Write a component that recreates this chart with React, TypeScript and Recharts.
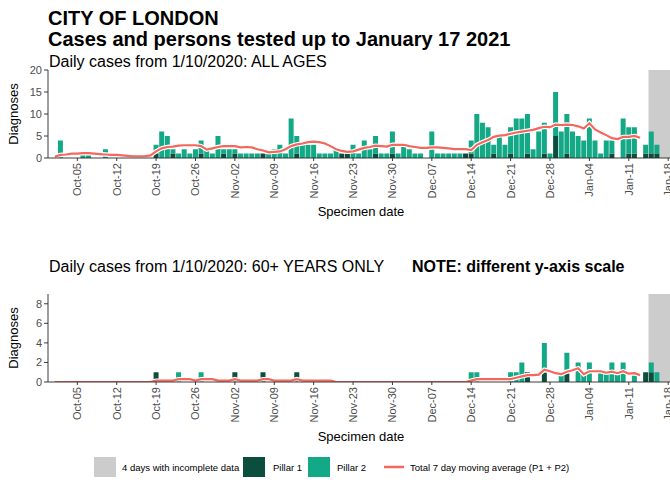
import React from 'react';
import { ComposedChart, Bar, Line, XAxis, YAxis, ReferenceArea } from 'recharts';

const DATES = [
  'Oct-01','Oct-02','Oct-03','Oct-04','Oct-05','Oct-06','Oct-07','Oct-08','Oct-09','Oct-10',
  'Oct-11','Oct-12','Oct-13','Oct-14','Oct-15','Oct-16','Oct-17','Oct-18','Oct-19','Oct-20',
  'Oct-21','Oct-22','Oct-23','Oct-24','Oct-25','Oct-26','Oct-27','Oct-28','Oct-29','Oct-30',
  'Oct-31','Nov-01','Nov-02','Nov-03','Nov-04','Nov-05','Nov-06','Nov-07','Nov-08','Nov-09',
  'Nov-10','Nov-11','Nov-12','Nov-13','Nov-14','Nov-15','Nov-16','Nov-17','Nov-18','Nov-19',
  'Nov-20','Nov-21','Nov-22','Nov-23','Nov-24','Nov-25','Nov-26','Nov-27','Nov-28','Nov-29',
  'Nov-30','Dec-01','Dec-02','Dec-03','Dec-04','Dec-05','Dec-06','Dec-07','Dec-08','Dec-09',
  'Dec-10','Dec-11','Dec-12','Dec-13','Dec-14','Dec-15','Dec-16','Dec-17','Dec-18','Dec-19',
  'Dec-20','Dec-21','Dec-22','Dec-23','Dec-24','Dec-25','Dec-26','Dec-27','Dec-28','Dec-29',
  'Dec-30','Dec-31','Jan-01','Jan-02','Jan-03','Jan-04','Jan-05','Jan-06','Jan-07','Jan-08',
  'Jan-09','Jan-10','Jan-11','Jan-12','Jan-13','Jan-14','Jan-15','Jan-16','Jan-17','Jan-18',
];

const TICK_LABELS = [
  'Oct-05','Oct-12','Oct-19','Oct-26','Nov-02','Nov-09','Nov-16','Nov-23',
  'Nov-30','Dec-07','Dec-14','Dec-21','Dec-28','Jan-04','Jan-11','Jan-18',
];

const INCOMPLETE_START = 'Jan-15';
const INCOMPLETE_END = 'Jan-18';

// ALL AGES
const ALL_P1 = [
  0,0,0,0,0,0,0,0,0,0,
  0,0,0,0,0,0,0,0,1,0,
  0,1,0,0,0,0,1,0,0,0,
  1,0,1,0,0,0,0,1,0,0,
  0,0,0,1,0,0,0,0,0,0,
  0,1,1,0,0,0,0,1,0,0,
  1,0,0,0,0,0,0,0,0,0,
  0,0,0,1,1,0,0,0,1,0,
  0,1,0,0,1,0,0,1,0,5,
  0,1,0,0,0,0,0,0,0,1,
  0,0,1,1,0,1,1,1,0,0,
];
const ALL_P2 = [
  0,4,0,0,0,1,1,0,0,2,
  0,0,0,0,0,0,0,0,2,6,
  5,1,1,2,1,2,3,2,1,5,
  1,2,1,1,1,1,1,0,1,2,
  3,1,9,4,3,3,3,1,1,1,
  2,0,0,3,1,4,2,4,1,1,
  5,1,3,2,1,1,0,6,1,1,
  1,1,1,0,3,10,8,7,2,5,
  3,6,9,9,9,2,6,7,1,10,
  6,9,6,5,4,9,4,1,4,3,
  0,9,6,6,0,2,5,2,0,0,
];
const ALL_AVG = [
  0.3,0.7,0.8,1.0,1.0,1.1,1.1,1.0,0.9,0.8,
  0.7,0.7,0.6,0.5,0.4,0.4,0.4,0.6,1.5,2.2,
  2.5,2.6,2.8,2.9,2.9,2.9,2.7,1.9,2.2,2.5,
  2.7,2.7,2.7,2.4,2.5,2.4,2.0,1.7,1.3,1.4,
  1.5,2.0,2.7,3.1,3.3,3.6,3.7,3.6,3.3,2.7,
  2.0,1.6,1.4,1.5,1.9,2.3,2.5,2.8,2.7,2.6,
  3.0,3.0,3.0,2.7,2.5,2.3,2.3,2.4,2.4,2.3,
  2.2,2.0,2.0,2.0,1.8,3.0,3.6,4.1,4.8,5.1,
  5.2,5.5,5.8,6.0,6.2,6.4,6.8,7.1,7.0,7.6,
  7.5,7.6,7.5,7.2,6.7,7.9,6.5,5.8,5.2,4.5,
  4.3,4.8,4.8,5.0,4.6,null,null,null,null,null,
];

// 60+ YEARS ONLY
const OLD_P1 = [
  0,0,0,0,0,0,0,0,0,0,
  0,0,0,0,0,0,0,0,1,0,
  0,0,0,0,0,0,0,0,0,0,
  0,0,1,0,0,0,0,1,0,0,
  0,0,0,1,0,0,0,0,0,0,
  0,0,0,0,0,0,0,0,0,0,
  0,0,0,0,0,0,0,0,0,0,
  0,0,0,0,0,0,0,0,0,0,
  0,0,0,0,1,0,0,1,0,0,
  0,1,0,0,0,0,0,0,0,0,
  0,0,0,0,0,1,1,0,0,0,
];
const OLD_P2 = [
  0,0,0,0,0,0,0,0,0,0,
  0,0,0,0,0,0,0,0,0,0,
  0,0,1,0,0,0,1,0,0,0,
  0,0,0,0,0,0,0,0,0,0,
  0,0,0,0,0,0,0,0,0,0,
  0,0,0,0,0,0,0,0,0,0,
  0,0,0,0,0,0,0,0,0,0,
  0,0,0,0,1,1,0,0,0,0,
  0,1,1,2,0,0,0,3,0,0,
  1,2,0,2,1,2,0,1,1,2,
  1,2,0,1,0,0,1,1,0,0,
];
const OLD_AVG = [
  0,0,0,0,0,0,0,0,0,0,
  0,0,0,0,0,0,0,0,0.14,0.14,
  0.14,0.14,0.29,0.29,0.29,0.14,0.29,0.29,0.29,0.14,
  0.14,0.14,0.29,0.14,0.14,0.14,0.14,0.29,0.29,0.14,
  0.14,0.14,0.14,0.29,0.14,0.14,0.14,0.14,0.14,0.14,
  0,0,0,0,0,0,0,0,0,0,
  0,0,0,0,0,0,0,0,0,0,
  0,0,0,0,0.14,0.29,0.29,0.29,0.29,0.29,
  0.29,0.29,0.43,0.57,0.71,0.71,0.75,1.25,1.1,0.9,
  0.8,1.05,1.2,1.4,0.8,1.1,1.1,1.1,0.95,1.05,
  0.9,1.1,0.85,0.9,0.7,null,null,null,null,null,
];

const ALL_TICKS = [0, 5, 10, 15, 20];
const OLD_TICKS = [0, 2, 4, 6, 8];

const allData = DATES.map((date, i) => ({ date, p1: ALL_P1[i], p2: ALL_P2[i], avg: ALL_AVG[i] }));
const oldData = DATES.map((date, i) => ({ date, p1: OLD_P1[i], p2: OLD_P2[i], avg: OLD_AVG[i] }));

const FONT = '"Liberation Sans", Arial, Helvetica, sans-serif';
const TEAL = '#13A886';
const DARK = '#0B4E3D';
const GREY = '#CCCCCC';
const RED = '#F4675E';
const AXIS = '#262626';
const TICK_TEXT = '#4D4D4D';

const XTick = (props: any) => {
  const { x, y, payload } = props;
  if (!TICK_LABELS.includes(payload.value)) return <g />;
  const ty = y + 5;
  return (
    <g>
      <line x1={x} x2={x} y1={y} y2={y + 3} stroke={AXIS} strokeWidth={0.9} />
      <text
        x={x}
        y={ty}
        transform={`rotate(-90 ${x} ${ty})`}
        textAnchor="end"
        dominantBaseline="central"
        fontSize={11}
        fill={TICK_TEXT}
        fontFamily={FONT}
      >
        {payload.value}
      </text>
    </g>
  );
};

function Panel({ data, yMax, ticks }: { data: any[]; yMax: number; ticks: number[] }) {
  return (
    <ComposedChart
      width={675}
      height={230}
      data={data}
      margin={{ top: 70, right: 4, bottom: 22, left: 0 }}
      barCategoryGap="5%"
    >
      <ReferenceArea
        x1={INCOMPLETE_START}
        x2={INCOMPLETE_END}
        y1={0}
        y2={yMax}
        fill={GREY}
        fillOpacity={1}
        stroke="none"
        ifOverflow="visible"
      />
      <XAxis
        dataKey="date"
        interval={0}
        tickLine={false}
        tickSize={0}
        tickMargin={0}
        tick={<XTick />}
        height={50}
        padding={{ left: 4, right: 0 }}
        axisLine={{ stroke: AXIS, strokeWidth: 0.9 }}
      />
      <YAxis
        width={48}
        domain={[0, yMax]}
        ticks={ticks}
        allowDataOverflow
        tickSize={4}
        tickMargin={2}
        tick={{ fontSize: 11, fill: TICK_TEXT, fontFamily: FONT }}
        tickLine={{ stroke: AXIS, strokeWidth: 0.9 }}
        axisLine={{ stroke: AXIS, strokeWidth: 0.9 }}
      />
      <Bar dataKey="p1" stackId="a" fill={DARK} isAnimationActive={false} />
      <Bar dataKey="p2" stackId="a" fill={TEAL} isAnimationActive={false} />
      <Line
        dataKey="avg"
        type="linear"
        stroke="#FFFFFF"
        strokeWidth={4.5}
        dot={false}
        activeDot={false}
        isAnimationActive={false}
        connectNulls={false}
      />
      <Line
        dataKey="avg"
        type="linear"
        stroke={RED}
        strokeWidth={2.2}
        dot={false}
        activeDot={false}
        isAnimationActive={false}
        connectNulls={false}
      />
    </ComposedChart>
  );
}

export default function App() {
  return (
    <div
      style={{
        position: 'absolute',
        left: 0,
        top: 0,
        width: 670,
        height: 485,
        overflow: 'hidden',
        background: '#fff',
        fontFamily: FONT,
      }}
    >
      <div style={{ position: 'absolute', left: 0, top: 0 }}>
        <Panel data={allData} yMax={20} ticks={ALL_TICKS} />
      </div>
      <div style={{ position: 'absolute', left: 0, top: 224 }}>
        <Panel data={oldData} yMax={9} ticks={OLD_TICKS} />
      </div>
      <svg
        width={670}
        height={485}
        style={{ position: 'absolute', left: 0, top: 0, pointerEvents: 'none' }}
        fontFamily={FONT}
      >
        <text x={48} y={25} fontSize={20} fontWeight="bold" fill="#000">CITY OF LONDON</text>
        <text x={48} y={46} fontSize={20} fontWeight="bold" fill="#000">
          Cases and persons tested up to January 17 2021
        </text>
        <text x={49} y={67} fontSize={16} fill="#000">Daily cases from 1/10/2020: ALL AGES</text>
        <text x={18} y={114} fontSize={13} fill="#000" textAnchor="middle" transform="rotate(-90 18 114)">
          Diagnoses
        </text>
        <text x={361} y={216} fontSize={13} fill="#000" textAnchor="middle">Specimen date</text>

        <text x={49} y={272} fontSize={16} fill="#000">Daily cases from 1/10/2020: 60+ YEARS ONLY</text>
        <text x={412} y={272} fontSize={16} fontWeight="bold" fill="#000">NOTE: different y-axis scale</text>
        <text x={18} y={338} fontSize={13} fill="#000" textAnchor="middle" transform="rotate(-90 18 338)">
          Diagnoses
        </text>
        <text x={361} y={441} fontSize={13} fill="#000" textAnchor="middle">Specimen date</text>

        <rect x={94} y={457} width={22} height={20} fill={GREY} />
        <text x={122} y={470.5} fontSize={9.5} fill="#000">4 days with incomplete data</text>
        <rect x={243} y={457} width={22} height={20} fill={DARK} />
        <text x={273} y={470.5} fontSize={9.5} fill="#000">Pillar 1</text>
        <rect x={308} y={457} width={22} height={20} fill={TEAL} />
        <text x={337} y={470.5} fontSize={9.5} fill="#000">Pillar 2</text>
        <line x1={384} x2={404} y1={467} y2={467} stroke={RED} strokeWidth={2.5} />
        <text x={410} y={470.5} fontSize={9.5} fill="#000">Total 7 day moving average (P1 + P2)</text>
      </svg>
    </div>
  );
}
